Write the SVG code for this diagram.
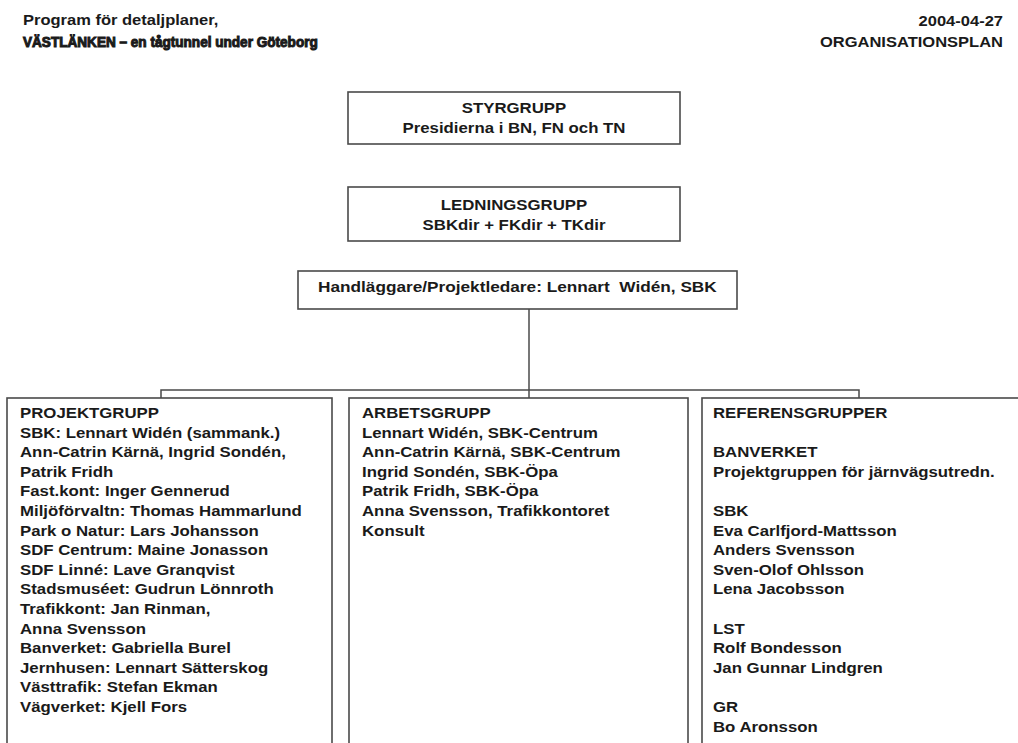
<svg xmlns="http://www.w3.org/2000/svg" width="1018" height="743" viewBox="0 0 1018 743">
<style>
text{font-family:"Liberation Sans",Arial,sans-serif;font-weight:bold;font-size:14px;fill:#1a1a1a}
.box{fill:#fff;stroke:#4a4a4a;stroke-width:1.6}
.conn{fill:none;stroke:#4a4a4a;stroke-width:1.5}
.heavy{stroke:#1a1a1a;stroke-width:1}
</style>
<rect width="1018" height="743" fill="#fff"/>
<g id="header-left">
<g transform="translate(23,0) scale(1.18,1)"><text x="0" y="25">Program för detaljplaner,</text></g>
<g transform="translate(23,0) scale(0.97,1)"><text class="heavy" x="0" y="47">VÄSTLÄNKEN – en tågtunnel under Göteborg</text></g>
</g>
<g id="header-right" transform="translate(1003,0) scale(1.18,1)">
<text x="0" y="26" text-anchor="end">2004-04-27</text>
<text x="0" y="47" text-anchor="end">ORGANISATIONSPLAN</text>
</g>
<g id="connectors">
<line class="conn" x1="529" y1="309" x2="529" y2="398"/>
<polyline class="conn" points="161,398 161,390 859,390 859,398"/>
</g>
<g id="styrgrupp">
<rect class="box" x="348" y="92" width="332" height="52"/>
<g transform="translate(514,0) scale(1.2,1)">
<text x="0" y="113" text-anchor="middle">STYRGRUPP</text>
<text x="0" y="133" text-anchor="middle">Presidierna i BN, FN och TN</text>
</g>
</g>
<g id="ledningsgrupp">
<rect class="box" x="348" y="187" width="332" height="54"/>
<g transform="translate(514,0) scale(1.2,1)">
<text x="0" y="210" text-anchor="middle">LEDNINGSGRUPP</text>
<text x="0" y="230" text-anchor="middle">SBKdir + FKdir + TKdir</text>
</g>
</g>
<g id="handlaggare">
<rect class="box" x="298" y="271" width="439" height="38"/>
<g transform="translate(318,0) scale(1.23,1)">
<text x="0" y="292" xml:space="preserve">Handläggare/Projektledare: Lennart  Widén, SBK</text>
</g>
</g>
<g id="projektgrupp">
<rect class="box" x="7" y="398" width="325" height="360"/>
<g transform="translate(20,0) scale(1.2,1)">
<text x="0" y="418">PROJEKTGRUPP</text>
<text x="0" y="437.6">SBK: Lennart Widén (sammank.)</text>
<text x="0" y="457.2">Ann-Catrin Kärnä, Ingrid Sondén,</text>
<text x="0" y="476.8">Patrik Fridh</text>
<text x="0" y="496.4">Fast.kont: Inger Gennerud</text>
<text x="0" y="516">Miljöförvaltn: Thomas Hammarlund</text>
<text x="0" y="535.6">Park o Natur: Lars Johansson</text>
<text x="0" y="555.2">SDF Centrum: Maine Jonasson</text>
<text x="0" y="574.8">SDF Linné: Lave Granqvist</text>
<text x="0" y="594.4">Stadsmuséet: Gudrun Lönnroth</text>
<text x="0" y="614">Trafikkont: Jan Rinman,</text>
<text x="0" y="633.6">Anna Svensson</text>
<text x="0" y="653.2">Banverket: Gabriella Burel</text>
<text x="0" y="672.8">Jernhusen: Lennart Sätterskog</text>
<text x="0" y="692.4">Västtrafik: Stefan Ekman</text>
<text x="0" y="712">Vägverket: Kjell Fors</text>
</g>
</g>
<g id="arbetsgrupp">
<rect class="box" x="349" y="398" width="339" height="360"/>
<g transform="translate(362,0) scale(1.2,1)">
<text x="0" y="418">ARBETSGRUPP</text>
<text x="0" y="437.6">Lennart Widén, SBK-Centrum</text>
<text x="0" y="457.2">Ann-Catrin Kärnä, SBK-Centrum</text>
<text x="0" y="476.8">Ingrid Sondén, SBK-Öpa</text>
<text x="0" y="496.4">Patrik Fridh, SBK-Öpa</text>
<text x="0" y="516">Anna Svensson, Trafikkontoret</text>
<text x="0" y="535.6">Konsult</text>
</g>
</g>
<g id="referensgrupper">
<rect class="box" x="702" y="398" width="330" height="360"/>
<g transform="translate(713,0) scale(1.2,1)">
<text x="0" y="418">REFERENSGRUPPER</text>
<text x="0" y="457.2">BANVERKET</text>
<text x="0" y="476.8">Projektgruppen för järnvägsutredn.</text>
<text x="0" y="516">SBK</text>
<text x="0" y="535.6">Eva Carlfjord-Mattsson</text>
<text x="0" y="555.2">Anders Svensson</text>
<text x="0" y="574.8">Sven-Olof Ohlsson</text>
<text x="0" y="594.4">Lena Jacobsson</text>
<text x="0" y="633.6">LST</text>
<text x="0" y="653.2">Rolf Bondesson</text>
<text x="0" y="672.8">Jan Gunnar Lindgren</text>
<text x="0" y="712">GR</text>
<text x="0" y="731.6">Bo Aronsson</text>
</g>
</g>
</svg>
